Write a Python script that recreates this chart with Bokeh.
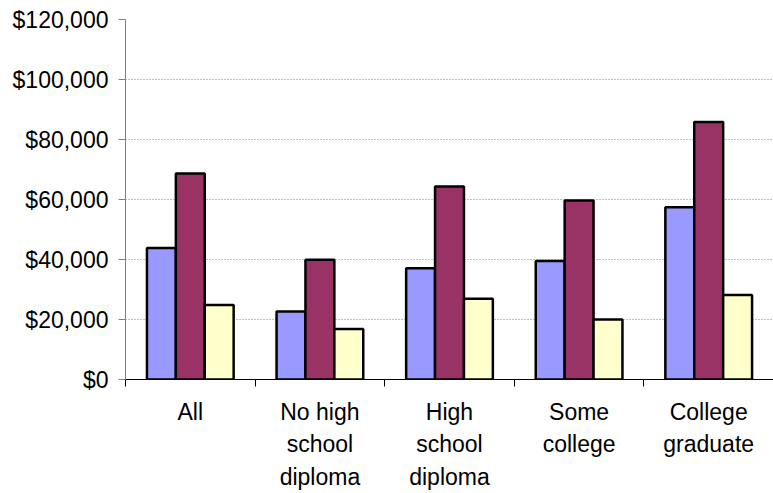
from bokeh.plotting import figure
from bokeh.models import FixedTicker, NumeralTickFormatter, Range1d, ColumnDataSource
from bokeh.embed import file_html
from bokeh.resources import INLINE

categories = ["All", "No high\nschool\ndiploma", "High\nschool\ndiploma", "Some\ncollege", "College\ngraduate"]
series_a = [43800, 22700, 37100, 39500, 57400]
series_b = [68700, 39900, 64300, 59700, 85800]
series_c = [24800, 16800, 26900, 20000, 28200]
y_ticks = [0, 20000, 40000, 60000, 80000, 100000, 120000]

colors = ["#9999FF", "#993366", "#FFFFCC"]
bw = 0.223
offsets = [-bw, 0.0, bw]

p = figure(width=773, height=493, output_backend="svg", toolbar_location=None,
           x_range=Range1d(0, len(categories)), y_range=Range1d(0, 120000),
           min_border_left=125, min_border_right=0, min_border_top=19, min_border_bottom=113)

centers = [i + 0.5 for i in range(len(categories))]
for vals, col, off in zip([series_a, series_b, series_c], colors, offsets):
    src = ColumnDataSource(dict(x=[c + off for c in centers], top=vals))
    p.vbar(x="x", top="top", bottom=0, width=bw, source=src, fill_color=col,
           line_color="black", line_width=2.5)

font = "Liberation Sans"
fs = "23px"

# x axis
p.xaxis.ticker = FixedTicker(ticks=centers, minor_ticks=list(range(len(categories) + 1)))
p.xaxis.major_label_overrides = {c: lab for c, lab in zip(centers, categories)}
p.xaxis.major_tick_out = 0
p.xaxis.major_tick_in = 0
p.xaxis.minor_tick_out = 7
p.xaxis.minor_tick_in = 0
p.xaxis.minor_tick_line_color = "black"
p.xaxis.axis_line_color = "black"
p.xaxis.axis_line_width = 1
p.xaxis.major_label_text_font = font
p.xaxis.major_label_text_font_size = fs
p.xaxis.major_label_text_color = "black"
p.xaxis.major_label_standoff = 12
p.xaxis.major_label_text_line_height = 1.26

# y axis
p.yaxis.ticker = FixedTicker(ticks=y_ticks)
p.yaxis.formatter = NumeralTickFormatter(format="$0,0")
p.yaxis.axis_line_color = "#808080"
p.yaxis.major_tick_line_color = "#808080"
p.yaxis.major_tick_out = 7
p.yaxis.major_tick_in = 0
p.yaxis.minor_tick_line_color = None
p.yaxis.major_label_text_font = font
p.yaxis.major_label_text_font_size = fs
p.yaxis.major_label_text_color = "black"
p.yaxis.major_label_standoff = 10

p.xgrid.grid_line_color = None
p.ygrid.grid_line_color = "#808080"
p.ygrid.grid_line_dash = "1 2"
p.ygrid.grid_line_width = 1
p.outline_line_color = None
p.background_fill_color = "white"
p.border_fill_color = "white"

open("out.html", "w").write(file_html(p, INLINE))
